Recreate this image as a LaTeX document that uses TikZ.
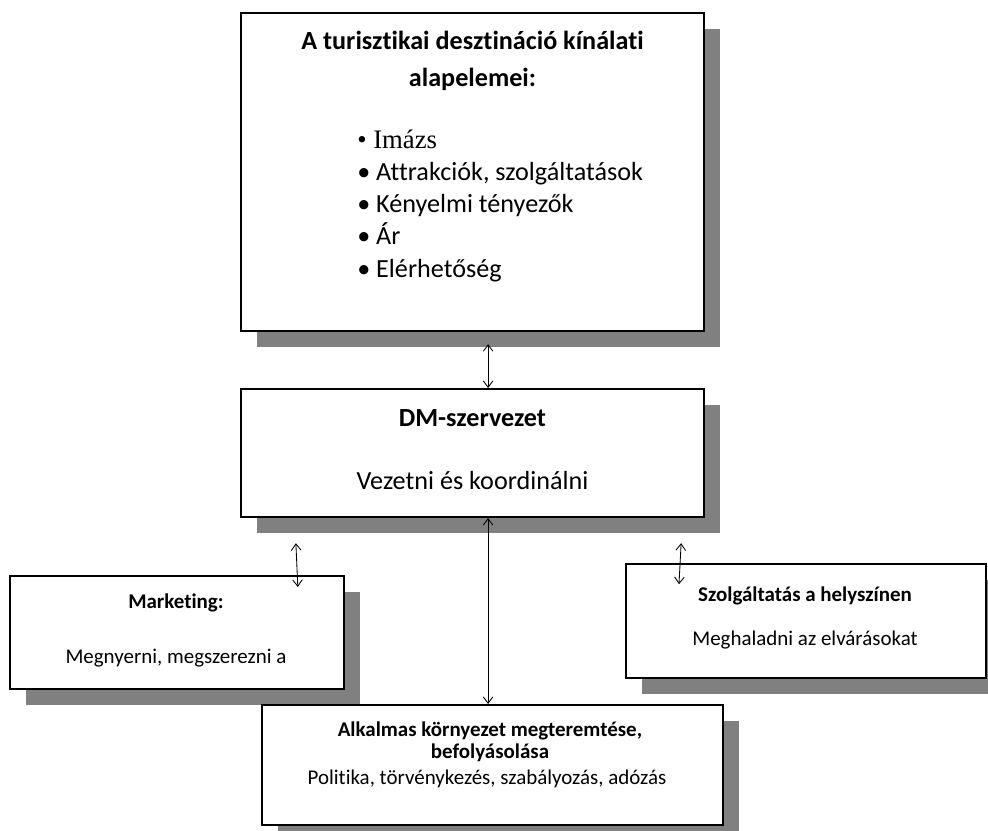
\documentclass[tikz,border=0pt]{standalone}
\usepackage{fontspec}
\setmainfont{Carlito}[Ligatures=NoCommon]
\newfontfamily\seriffont{Liberation Serif}
\usetikzlibrary{arrows.meta, positioning, shadows}

\begin{document}
\begin{tikzpicture}[x=0.025cm, y=-0.025cm,
    box/.style={rectangle, draw=black, line width=1.4pt, fill=white, inner sep=0pt,
                drop shadow={shadow xshift=0.4cm, shadow yshift=-0.4cm, fill=gray, opacity=1}},
    bigtext/.style={font=\fontsize{18.6}{22}\selectfont, inner sep=0pt},
    bigbold/.style={font=\fontsize{18.6}{22}\selectfont\bfseries, inner sep=0pt},
    smalltext/.style={font=\fontsize{14.9}{18}\selectfont, inner sep=0pt},
    smallbold/.style={font=\fontsize{14.9}{18}\selectfont\bfseries, inner sep=0pt},
    arrow/.style={{Straight Barb[length=1.6mm,width=2.4mm]}-{Straight Barb[length=1.6mm,width=2.4mm]}, line width=0.6pt}
]
\useasboundingbox (0,0) rectangle (988,830);

% boxes
\node[box, minimum width=11.58cm, minimum height=7.95cm] (kinalat) at (472.5,171.7) {};
\node[box, minimum width=11.58cm, minimum height=3.2cm]  (dm)      at (472.5,453)   {};
\node[box, minimum width=8.35cm,  minimum height=2.83cm] (mkt)     at (177,632.5)   {};
\node[box, minimum width=9cm,     minimum height=2.85cm] (szolg)   at (806,621)     {};
\node[box, minimum width=11.53cm, minimum height=3cm]    (korny)   at (492.5,765)   {};

% texts of the top box
\node[bigbold, anchor=base] (kcim1) at (472.5,49) {A turisztikai desztináció kínálati};
\node[bigbold, anchor=base] (kcim2) at (472.5,86) {alapelemei:};
\node[bigtext, anchor=base west] (k1) at (357,148) {{\seriffont\fontsize{19}{22}\selectfont • Imázs}};
\node[bigtext, anchor=base west] (k2) at (357,180) {• Attrakciók, szolgáltatások};
\node[bigtext, anchor=base west] (k3) at (357,212) {• Kényelmi tényezők};
\node[bigtext, anchor=base west] (k4) at (357,244) {• Ár};
\node[bigtext, anchor=base west] (k5) at (357,277) {• Elérhetőség};

% texts of the other boxes
\node[bigbold, anchor=base]   (dmcim)    at (472.5,426) {DM-szervezet};
\node[bigtext, anchor=base]   (dmszoveg) at (472.5,489) {Vezetni és koordinálni};
\node[smallbold, anchor=base] (mktcim)   at (176,608)   {Marketing:};
\node[smalltext, anchor=base] (mktszov)  at (176,663)   {Megnyerni, megszerezni a};
\node[smallbold, anchor=base] (szcim)    at (805,601)   {Szolgáltatás a helyszínen};
\node[smalltext, anchor=base] (szszov)   at (805,645)   {Meghaladni az elvárásokat};
\node[smallbold, anchor=base] (kcimA)    at (490,736)   {Alkalmas környezet megteremtése,};
\node[smallbold, anchor=base] (kcimB)    at (490,758)   {befolyásolása};
\node[smalltext, anchor=base] (kszov)    at (487,784)   {Politika, törvénykezés, szabályozás, adózás};

% connectors
\draw[arrow] ([xshift=0.39cm,yshift=-0.31cm]kinalat.south) -- ([xshift=0.39cm]dm.north);
\draw[arrow] ([xshift=0.39cm]dm.south) -- ([xshift=0.39cm]dm.south |- korny.north);
\draw[arrow] ([xshift=1.4cm,yshift=-0.63cm]dm.south west) -- ([xshift=-1.18cm,yshift=-0.3cm]mkt.north east);
\draw[arrow] ([xshift=-0.6cm,yshift=-0.63cm]dm.south east) -- ([xshift=1.35cm,yshift=-0.53cm]szolg.north west);
\end{tikzpicture}
\end{document}
